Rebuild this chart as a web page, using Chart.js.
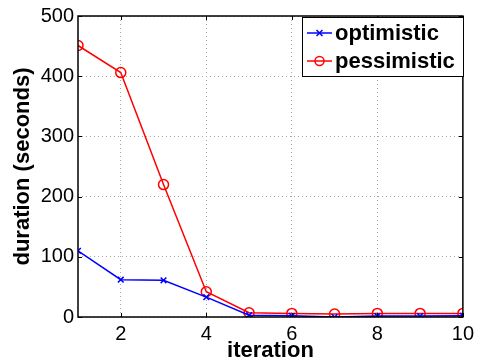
<!DOCTYPE html>
<html><head><meta charset="utf-8">
<script src="https://cdn.jsdelivr.net/npm/chart.js@4"></script>
<style>html,body{margin:0;padding:0;background:#fff}#c{display:block}</style>
</head><body>
<canvas id="c" width="479" height="364"></canvas>
<script>
const iterations = [1,2,3,4,5,6,7,8,9,10];
const optimistic = [110,62,61,33,3,2,0,1.5,1.5,2];
const pessimistic = [451,406,220,42,7,6,5,6,6,6];
const xTicks = [2,4,6,8,10];
const yTicks = [0,100,200,300,400,500];
const seriesNames = ['optimistic','pessimistic'];

const FONT = "'Liberation Sans', Arial, sans-serif";

const framePlugin = {
  id:'frame',
  afterDraw(chart){
    const {ctx, chartArea:a} = chart;
    ctx.save();
    ctx.strokeStyle='#000'; ctx.lineWidth=1.5;
    ctx.strokeRect(a.left, a.top, a.right-a.left, a.bottom-a.top);
    ctx.lineWidth=1;
    const xs = chart.scales.x, ys = chart.scales.y;
    xTicks.forEach(t=>{const px=Math.round(xs.getPixelForValue(t))+0.5;
      ctx.beginPath();ctx.moveTo(px,a.bottom);ctx.lineTo(px,a.bottom-4);ctx.moveTo(px,a.top);ctx.lineTo(px,a.top+4);ctx.stroke();});
    yTicks.forEach(t=>{const py=Math.round(ys.getPixelForValue(t))+0.5;
      ctx.beginPath();ctx.moveTo(a.left,py);ctx.lineTo(a.left+4,py);ctx.moveTo(a.right,py);ctx.lineTo(a.right-4,py);ctx.stroke();});
    // legend
    const bx=302, by=17, bw=161, bh=59;
    ctx.fillStyle='#fff'; ctx.fillRect(bx,by,bw,bh);
    ctx.strokeStyle='#000'; ctx.lineWidth=1; ctx.strokeRect(bx+0.5,by+0.5,bw,bh);
    ctx.font="bold 22px "+FONT; ctx.textBaseline='middle'; ctx.textAlign='left';
    chart.data.datasets.forEach((ds,i)=>{
      const cy = by + 16 + i*28;
      ctx.strokeStyle=ds.borderColor; ctx.lineWidth=1.5;
      ctx.beginPath(); ctx.moveTo(307,cy); ctx.lineTo(332,cy); ctx.stroke();
      const mx=319.5;
      if(ds.pointStyle==='crossRot'){
        ctx.beginPath(); ctx.moveTo(mx-3,cy-3);ctx.lineTo(mx+3,cy+3);ctx.moveTo(mx+3,cy-3);ctx.lineTo(mx-3,cy+3);ctx.stroke();
      } else {
        ctx.beginPath(); ctx.arc(mx,cy,4.5,0,Math.PI*2); ctx.stroke();
      }
      ctx.fillStyle='#000'; ctx.fillText(ds.label, 335, cy+1);
    });
    ctx.restore();
  }
};

new Chart(document.getElementById('c'), {
  type:'line',
  data:{
    datasets:[
      {label:seriesNames[0], data:iterations.map((x,i)=>({x, y:optimistic[i]})), borderColor:'#0000ff', backgroundColor:'#0000ff',
       borderWidth:1.5, pointStyle:'crossRot', pointRadius:4, pointBorderWidth:1.5, fill:false, tension:0},
      {label:seriesNames[1], data:iterations.map((x,i)=>({x, y:pessimistic[i]})), borderColor:'#ff0000', backgroundColor:'rgba(0,0,0,0)',
       borderWidth:1.5, pointStyle:'circle', pointRadius:5, pointBorderWidth:1.5, fill:false, tension:0}
    ]
  },
  options:{
    responsive:false, animation:false, devicePixelRatio:1,
    layout:{padding:{top:14,right:11,left:0,bottom:0}},
    plugins:{legend:{display:false}, tooltip:{enabled:false}},
    scales:{
      x:{type:'linear', min:1, max:10,
        afterBuildTicks(s){ s.ticks = xTicks.map(v=>({value:v})); },
        afterFit(s){ s.height = 47; },
        grid:{color:'#a8a8a8', lineWidth:1, tickLength:0, drawTicks:false},
        border:{display:false, dash:[1,3]},
        ticks:{color:'#000', font:{family:FONT, size:20}, padding:5, maxRotation:0},
        title:{display:true, text:'iteration', color:'#000', font:{family:FONT, size:22, weight:'bold'}, padding:{top:0,bottom:0}}
      },
      y:{type:'linear', min:0, max:500,
        afterBuildTicks(s){ s.ticks = yTicks.map(v=>({value:v})); },
        afterFit(s){ s.width = 78; },
        grid:{color:'#a8a8a8', lineWidth:1, drawTicks:false, tickLength:0},
        border:{display:false, dash:[1,3]},
        ticks:{color:'#000', font:{family:FONT, size:20}, padding:4},
        title:{display:true, text:'duration (seconds)', color:'#000', font:{family:FONT, size:22, weight:'bold'}, padding:{top:10,bottom:0}}
      }
    }
  },
  plugins:[framePlugin]
});
</script>
</body></html>
